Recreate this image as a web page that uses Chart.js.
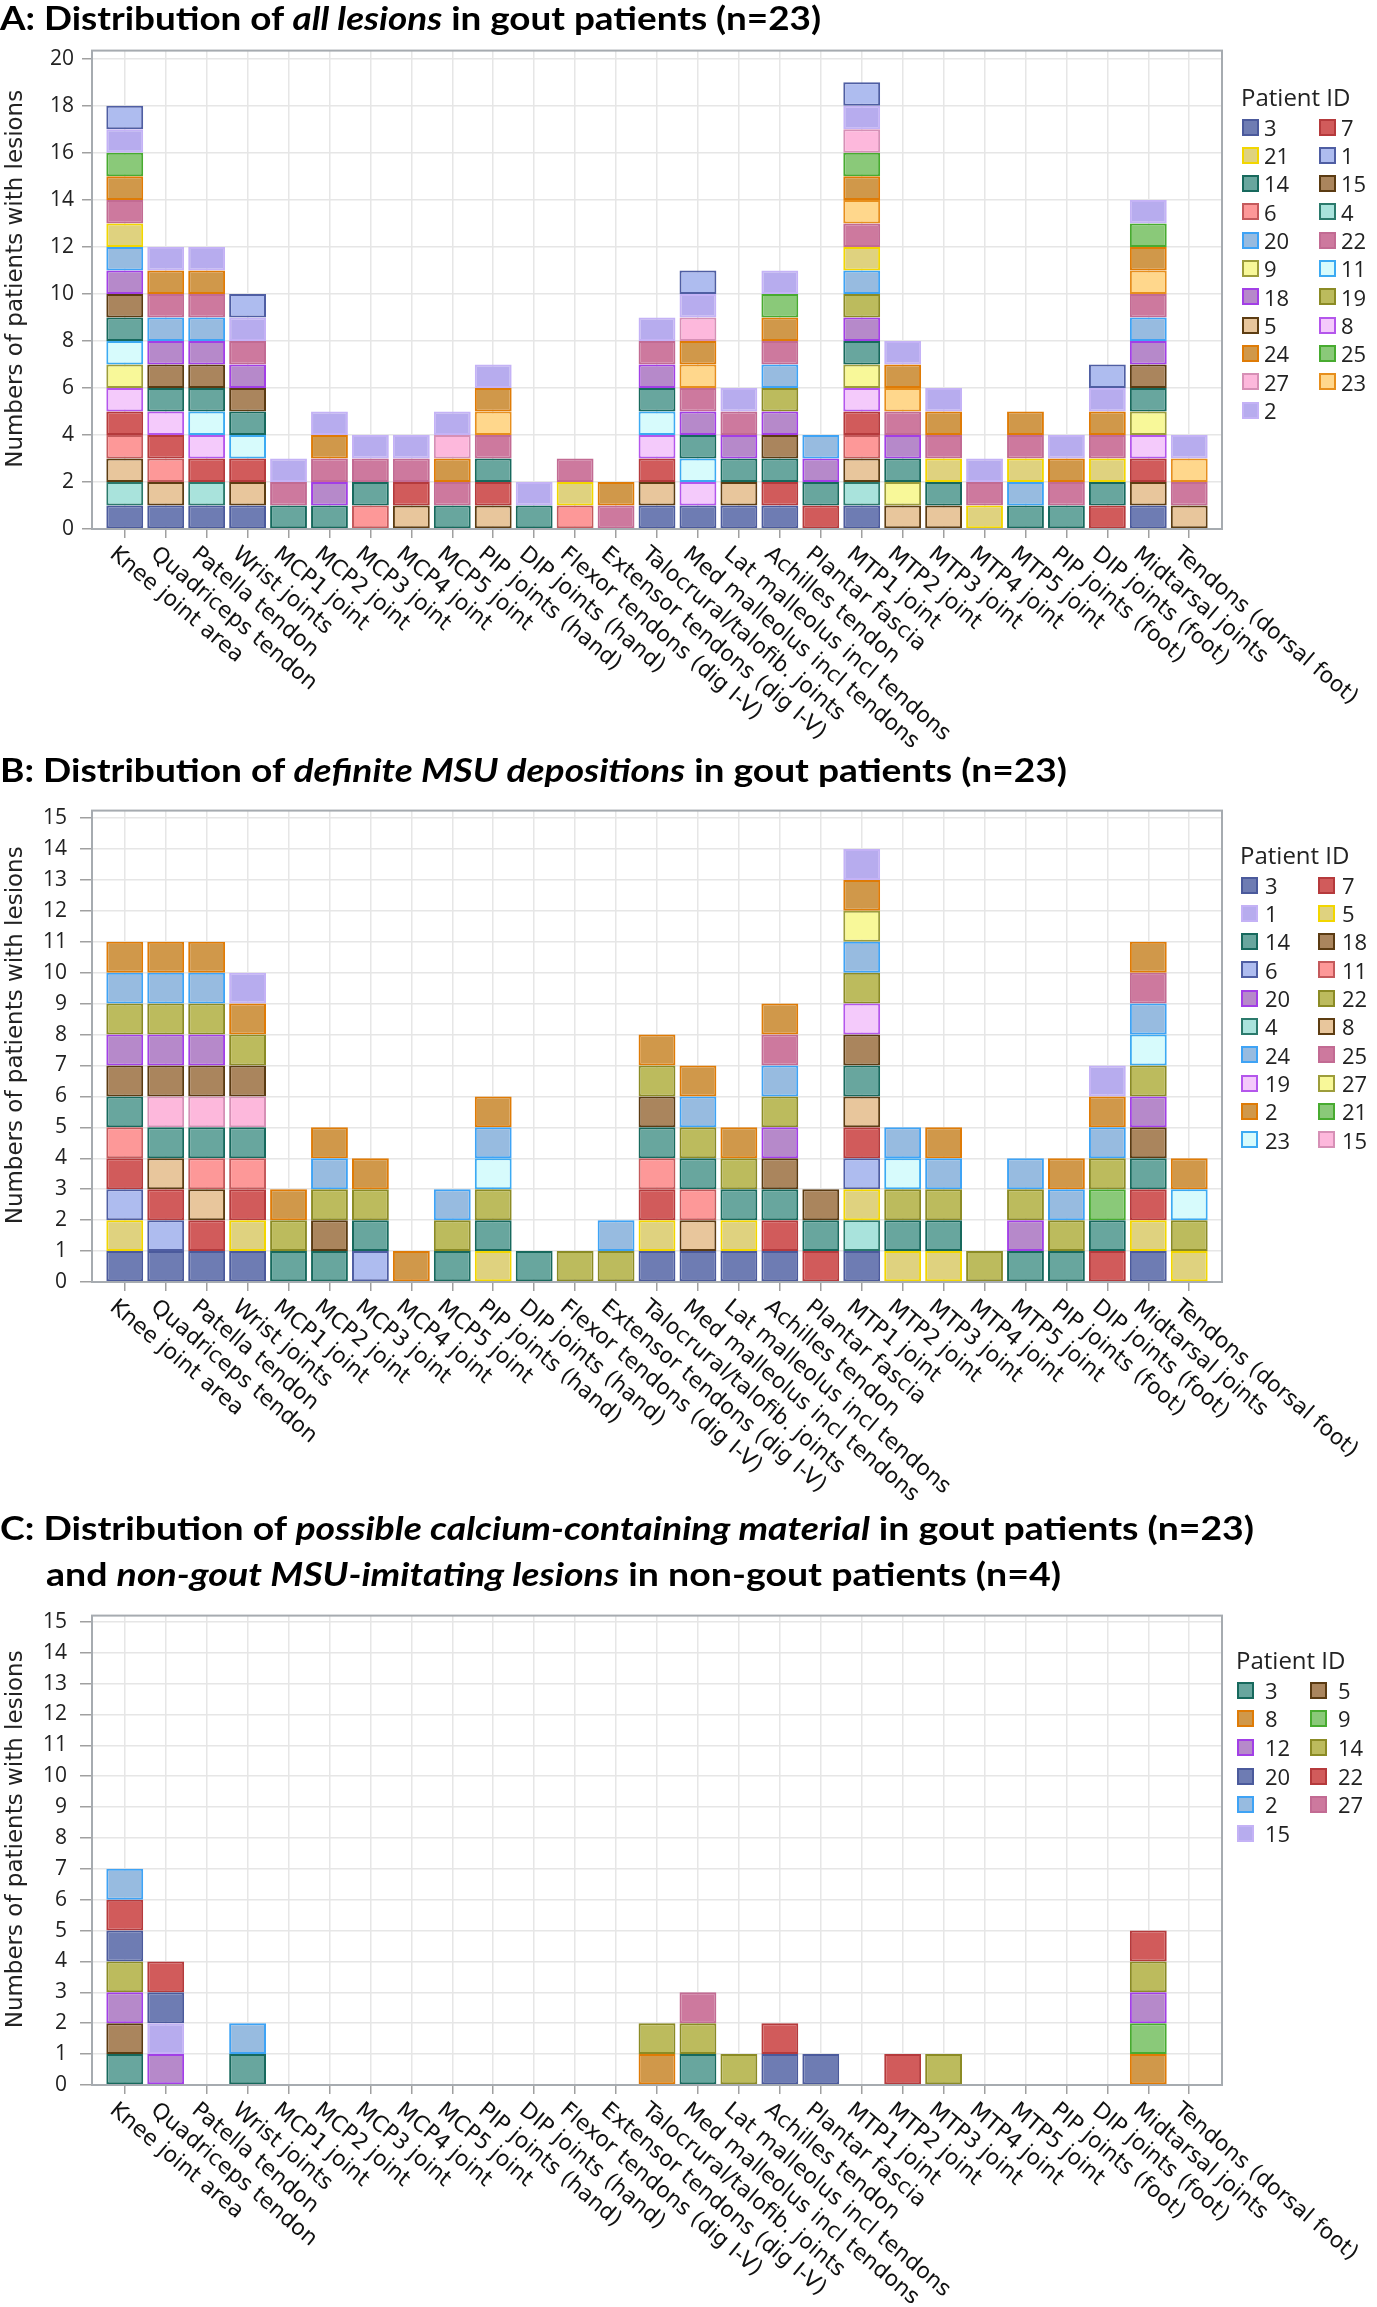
<!DOCTYPE html>
<html>
<head>
<meta charset="utf-8">
<script src="https://cdn.jsdelivr.net/npm/chart.js@4.4.1/dist/chart.umd.min.js"></script>
<style>
  body { margin: 0; background: #fff; }
  #page { position: relative; width: 1377px; height: 2307px; overflow: hidden; font-family: 'Open Sans', sans-serif; }
  canvas { position: absolute; left: 0; }
  .ttl { position: absolute; left: 0; white-space: nowrap; font-family: Lato, 'Open Sans', sans-serif;
         font-weight: 700; font-size: 32px; line-height: 1; color: #000; transform-origin: 0 50%; z-index: 2; }
  .legTitle { position: absolute; font-size: 24px; line-height: 30px; color: #222; white-space: nowrap; }
  .legText { position: absolute; font-size: 22px; color: #222; white-space: nowrap; }
  .sw { position: absolute; width: 17px; height: 17px; box-sizing: border-box; border: 2px solid; }
</style>
</head>
<body>
<div id="page">
  <div class="ttl" id="tA">A: Distribution of <i>all lesions</i> in gout patients (n=23)</div>
  <div class="ttl" id="tB">B: Distribution of <i>definite MSU depositions</i> in gout patients (n=23)</div>
  <div class="ttl" id="tC1">C: Distribution of <i>possible calcium-containing material</i> in gout patients (n=23)</div>
  <div class="ttl" id="tC2">and <i>non-gout MSU-imitating lesions</i> in non-gout patients (n=4)</div>
  <canvas id="cA" width="1377" height="725"></canvas>
  <canvas id="cB" width="1377" height="725"></canvas>
  <canvas id="cC" width="1377" height="717"></canvas>
</div>
<script>
const categories = [
  "Knee joint area", "Quadriceps tendon", "Patella tendon", "Wrist joints",
  "MCP1 joint", "MCP2 joint", "MCP3 joint", "MCP4 joint", "MCP5 joint",
  "PIP joints (hand)", "DIP joints (hand)", "Flexor tendons (dig I-V)",
  "Extensor tendons (dig I-V)", "Talocrural/talofib. joints",
  "Med malleolus incl tendons", "Lat malleolus incl tendons", "Achilles tendon",
  "Plantar fascia", "MTP1 joint", "MTP2 joint", "MTP3 joint", "MTP4 joint",
  "MTP5 joint", "PIP joints (foot)", "DIP joints (foot)", "Midtarsal joints",
  "Tendons (dorsal foot)"
];

// order in which patients are stacked (bottom first)
const stackOrder = [3, 4, 5, 6, 7, 8, 9, 11, 12, 14, 15, 18, 19, 20, 21, 22, 23, 24, 25, 27, 2, 1];

// A: all lesions - patient IDs with a lesion, per category
const legendA = [3, 7, 21, 1, 14, 15, 6, 4, 20, 22, 9, 11, 18, 19, 5, 8, 24, 25, 27, 23, 2];
const colorsA = ["darkblue", "red", "khaki", "periwinkle", "teal", "brown", "salmon", "lightteal",
  "lightblue", "mauve", "lightyellow", "lightcyan", "purple", "olive", "tan", "pinkviolet",
  "orange", "green", "pink", "lightorange", "lavender"];
const lesionsA = [
  [3, 4, 5, 6, 7, 8, 9, 11, 14, 15, 18, 20, 21, 22, 24, 25, 2, 1],
  [3, 5, 6, 7, 8, 14, 15, 18, 20, 22, 24, 2],
  [3, 4, 7, 8, 11, 14, 15, 18, 20, 22, 24, 2],
  [3, 5, 7, 11, 14, 15, 18, 22, 2, 1],
  [14, 22, 2],
  [14, 18, 22, 24, 2],
  [6, 14, 22, 2],
  [5, 7, 22, 2],
  [14, 22, 24, 27, 2],
  [5, 7, 14, 22, 23, 24, 2],
  [14, 2],
  [6, 21, 22],
  [22, 24],
  [3, 5, 7, 8, 11, 14, 18, 22, 2],
  [3, 8, 11, 14, 18, 22, 23, 24, 27, 2, 1],
  [3, 5, 14, 18, 22, 2],
  [3, 7, 14, 15, 18, 19, 20, 22, 24, 25, 2],
  [7, 14, 18, 20],
  [3, 4, 5, 6, 7, 8, 9, 14, 18, 19, 20, 21, 22, 23, 24, 25, 27, 2, 1],
  [5, 9, 14, 18, 22, 23, 24, 2],
  [5, 14, 21, 22, 24, 2],
  [21, 22, 2],
  [14, 20, 21, 22, 24],
  [14, 22, 24, 2],
  [7, 14, 21, 22, 24, 2, 1],
  [3, 5, 7, 8, 9, 14, 15, 18, 20, 22, 23, 24, 25, 2],
  [5, 22, 23, 2]
];

// B: definite MSU depositions
const legendB = [3, 7, 1, 5, 14, 18, 6, 11, 20, 22, 4, 8, 24, 25, 19, 27, 2, 21, 23, 15];
const colorsB = ["darkblue", "red", "lavender", "khaki", "teal", "brown", "periwinkle", "salmon",
  "purple", "olive", "lightteal", "tan", "lightblue", "mauve", "pinkviolet", "lightyellow",
  "orange", "green", "lightcyan", "pink"];
const lesionsB = [
  [3, 5, 6, 7, 11, 14, 18, 20, 22, 24, 2],
  [3, 6, 7, 8, 14, 15, 18, 20, 22, 24, 2],
  [3, 7, 8, 11, 14, 15, 18, 20, 22, 24, 2],
  [3, 5, 7, 11, 14, 15, 18, 22, 2, 1],
  [14, 22, 2],
  [14, 18, 22, 24, 2],
  [6, 14, 22, 2],
  [2],
  [14, 22, 24],
  [5, 14, 22, 23, 24, 2],
  [14],
  [22],
  [22, 24],
  [3, 5, 7, 11, 14, 18, 22, 2],
  [3, 8, 11, 14, 22, 24, 2],
  [3, 5, 14, 22, 2],
  [3, 7, 14, 18, 20, 22, 24, 25, 2],
  [7, 14, 18],
  [3, 4, 5, 6, 7, 8, 14, 18, 19, 22, 24, 27, 2, 1],
  [5, 14, 22, 23, 24],
  [5, 14, 22, 24, 2],
  [22],
  [14, 20, 22, 24],
  [14, 22, 24, 2],
  [7, 14, 21, 22, 24, 2, 1],
  [3, 5, 7, 14, 18, 20, 22, 23, 24, 25, 2],
  [5, 22, 23, 2]
];

// C: possible calcium-containing material / non-gout MSU-imitating lesions
const legendC = [3, 5, 8, 9, 12, 14, 20, 22, 2, 27, 15];
const colorsC = ["teal", "brown", "orange", "green", "purple", "olive", "darkblue", "red",
  "lightblue", "mauve", "lavender"];
const lesionsC = [
  [3, 5, 12, 14, 20, 22, 2],
  [12, 15, 20, 22],
  [],
  [3, 2],
  [], [], [], [], [], [], [], [], [],
  [8, 14],
  [3, 14, 27],
  [14],
  [20, 22],
  [20],
  [],
  [22],
  [14],
  [], [], [], [],
  [8, 9, 12, 14, 22],
  []
];

// leading spaces nudge the centred title a little up, as in the original
const yTitle = "   Numbers of patients with lesions";

// fill, border
const palette = {
  darkblue: ["#6e7cb3", "#4b5a9c"],
  red: ["#d15b5b", "#b53a3c"],
  khaki: ["#dfd27f", "#f2d600"],
  periwinkle: ["#aebcef", "#4f5ea3"],
  teal: ["#68a69e", "#17695d"],
  brown: ["#aa855d", "#5b3b12"],
  salmon: ["#fd9898", "#c45a5c"],
  lightteal: ["#a9e3dc", "#2b7a6c"],
  lightblue: ["#97bbe0", "#3ea3f5"],
  mauve: ["#cd799e", "#c26b93"],
  lightyellow: ["#f8f899", "#9d9d3b"],
  lightcyan: ["#d7fbfc", "#3caaf2"],
  purple: ["#b689ca", "#a23fe6"],
  olive: ["#bcbb5d", "#8b8b25"],
  tan: ["#e8c69c", "#5d3d12"],
  pinkviolet: ["#f4cafb", "#b456ec"],
  orange: ["#d0984a", "#df7b06"],
  green: ["#8ac979", "#48ab30"],
  pink: ["#fdb8dc", "#d690b6"],
  lightorange: ["#ffd78c", "#e78f1d"],
  lavender: ["#b7acee", "#c4b2f6"]
};

function buildDatasets(lesions, legendIds, colorNames) {
  const ids = stackOrder.filter(id => legendIds.includes(id));
  return ids.map(id => {
    const c = palette[colorNames[legendIds.indexOf(id)]];
    return {
      label: String(id),
      data: lesions.map(list => (list.includes(id) ? 1 : null)),
      backgroundColor: c[0],
      borderColor: c[1],
      borderWidth: 2,
      borderSkipped: false,
      barPercentage: 0.9,
      categoryPercentage: 1
    };
  });
}

const panels = [
  { id: "cA", top: 30, height: 725, frameTop: 42, base: 529, yMax: 20.35, step: 2, tickLen: 10, tickPad: 8,
    lesions: lesionsA, legend: legendA, colors: colorsA,
    leg: { titleY: 97, titleX: 1241, rowY: 127, rowH: 28.3, sw: [1242, 1319], txt: 22 } },
  { id: "cB", top: 785, height: 725, frameTop: 794, base: 1282, yMax: 15.24, step: 1, tickLen: 12, tickPad: 13,
    lesions: lesionsB, legend: legendB, colors: colorsB,
    leg: { titleY: 855, titleX: 1240, rowY: 885, rowH: 28.3, sw: [1241, 1318], txt: 24 } },
  { id: "cC", top: 1590, height: 717, frameTop: 1599, base: 2085, yMax: 15.2, step: 1, tickLen: 12, tickPad: 13,
    lesions: lesionsC, legend: legendC, colors: colorsC,
    leg: { titleY: 1660, titleX: 1236, rowY: 1690, rowH: 28.7, sw: [1237, 1310], txt: 28 } }
];

const plotLeft = 92;
const plotRight = 1222;

// frame around plot area + rotated category labels
const framePlugin = {
  id: "frameAndLabels",
  afterDatasetsDraw(chart) {
    const { ctx, chartArea } = chart;
    ctx.save();
    ctx.strokeStyle = "#a6abb0";
    ctx.lineWidth = 2;
    ctx.strokeRect(chartArea.left, chartArea.top, chartArea.right - chartArea.left, chartArea.bottom - chartArea.top);
    ctx.restore();

    const xs = chart.scales.x;
    ctx.save();
    ctx.font = "22px 'DejaVu Sans'";
    ctx.fillStyle = "#111";
    ctx.textAlign = "left";
    ctx.textBaseline = "alphabetic";
    categories.forEach((label, i) => {
      const x = xs.getPixelForTick(i);
      ctx.save();
      ctx.translate(x - 16, chartArea.bottom + 27);
      ctx.rotate(40 * Math.PI / 180);
      ctx.fillText(label, 0, 0);
      ctx.restore();
    });
    ctx.restore();
  }
};

panels.forEach(p => {
  const cv = document.getElementById(p.id);
  cv.style.top = p.top + "px";
  new Chart(cv.getContext("2d"), {
    type: "bar",
    data: { labels: categories, datasets: buildDatasets(p.lesions, p.legend, p.colors) },
    options: {
      responsive: false,
      animation: false,
      devicePixelRatio: 1,
      events: [],
      layout: { padding: { top: p.frameTop - p.top, right: 1377 - plotRight, left: 0, bottom: 0 } },
      plugins: { legend: { display: false }, tooltip: { enabled: false } },
      scales: {
        x: {
          stacked: true,
          offset: false,
          grid: { offset: false, color: "#e6e6e6", lineWidth: 1.5, tickLength: 9, tickColor: "#a0a0a0", tickWidth: 1.5 },
          border: { display: false },
          ticks: { display: false },
          afterBuildTicks(scale) {
            // extra room at both ends, like the original plot
            scale._startValue = -0.8;
            scale._valueRange = categories.length - 1 + 1.6;
          },
          afterFit(scale) { scale.height = p.height - (p.base - p.top); }
        },
        y: {
          stacked: true,
          min: 0,
          max: p.yMax,
          grid: { color: "#e6e6e6", lineWidth: 1.5, tickLength: p.tickLen, tickColor: "#a0a0a0", tickWidth: 1.5 },
          border: { display: false },
          ticks: {
            stepSize: p.step,
            includeBounds: false,
            padding: p.tickPad,
            color: "#222",
            font: { family: "'Open Sans'", size: 21 }
          },
          title: {
            display: true,
            text: yTitle,
            color: "#222",
            font: { family: "'DejaVu Sans'", size: 23 },
            padding: { top: 2, bottom: 0 }
          },
          afterFit(scale) { scale.width = plotLeft; }
        }
      }
    },
    plugins: [framePlugin]
  });

  // legend (HTML, two columns)
  const page = document.getElementById("page");
  const L = p.leg;
  const t = document.createElement("div");
  t.className = "legTitle";
  t.textContent = "Patient ID";
  t.style.left = L.titleX + "px";
  t.style.top = (L.titleY - 15) + "px";
  page.appendChild(t);
  p.legend.forEach((id, k) => {
    const row = Math.floor(k / 2), col = k % 2;
    const cy = L.rowY + row * L.rowH;
    const c = palette[p.colors[k]];
    const sw = document.createElement("div");
    sw.className = "sw";
    sw.style.left = L.sw[col] + "px";
    sw.style.top = (cy - 8.5) + "px";
    sw.style.background = c[0];
    sw.style.borderColor = c[1];
    page.appendChild(sw);
    const tx = document.createElement("div");
    tx.className = "legText";
    tx.textContent = String(id);
    tx.style.left = (L.sw[col] + L.txt) + "px";
    tx.style.top = (cy - L.rowH / 2) + "px";
    tx.style.lineHeight = L.rowH + "px";
    page.appendChild(tx);
  });
});

// titles: fit to widths measured on the original
const titles = [
  { id: "tA", left: 0, width: 821, cy: 18 },
  { id: "tB", left: 0, width: 1067, cy: 770 },
  { id: "tC1", left: 0, width: 1254, cy: 1528 },
  { id: "tC2", left: 46, width: 1015, cy: 1574 }
];
titles.forEach(tt => {
  const el = document.getElementById(tt.id);
  const r = el.getBoundingClientRect();
  el.style.left = tt.left + "px";
  el.style.top = (tt.cy - r.height / 2) + "px";
  el.style.transform = "scaleX(" + (tt.width / r.width) + ")";
});
</script>
</body>
</html>
